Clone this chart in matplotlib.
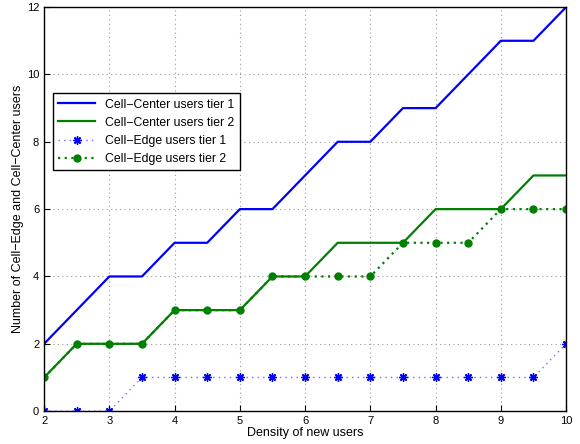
import matplotlib
matplotlib.use("Agg")
import matplotlib.pyplot as plt
import numpy as np

plt.rcParams["font.family"] = ["Liberation Sans", "DejaVu Sans"]

density = [2, 2.5, 3, 3.5, 4, 4.5, 5, 5.5, 6, 6.5, 7, 7.5, 8, 8.5, 9, 9.5, 10]
center_t1 = [2, 3, 4, 4, 5, 5, 6, 6, 7, 8, 8, 9, 9, 10, 11, 11, 12]
center_t2 = [1, 2, 2, 2, 3, 3, 3, 4, 4, 5, 5, 5, 6, 6, 6, 7, 7]
edge_t1 = [0, 0, 0, 1, 1, 1, 1, 1, 1, 1, 1, 1, 1, 1, 1, 1, 2]
edge_t2 = [1, 2, 2, 2, 3, 3, 3, 4, 4, 4, 4, 5, 5, 5, 6, 6, 6]

fig = plt.figure(figsize=(5.8, 4.44), dpi=100)
ax = fig.add_axes([0.076, 0.074, 0.9, 0.91])

ax.plot(density, center_t1, "-", color="#0000ff", lw=1.6, label="Cell\u2212Center users tier 1")
ax.plot(density, center_t2, "-", color="#008000", lw=1.6, label="Cell\u2212Center users tier 2")
ax.plot(density, edge_t1, color="#6f6fff", lw=1.0, ls=(0, (1, 3)), marker=(8, 2, 0), ms=6,
        markeredgewidth=1.0, markeredgecolor="#0000ff", label="Cell\u2212Edge users tier 1")
ax.plot(density, edge_t2, color="#008000", lw=1.6, ls=(0, (1, 2)), marker="o", ms=5,
        label="Cell\u2212Edge users tier 2")

ax.set_xlim(2, 10)
ax.set_ylim(0, 12)
ax.set_xticks(np.arange(2, 11, 1))
ax.set_yticks(np.arange(0, 13, 2))
ax.grid(True, ls=(0, (1, 3)), color="#999999", lw=0.8)
ax.tick_params(direction="in", labelsize=8, length=4)
for s in ax.spines.values():
    s.set_linewidth(1.0)

ax.set_xlabel("Density of new users", fontsize=9, labelpad=1)
ax.set_ylabel("Number of Cell\u2212Edge and Cell\u2212Center users", fontsize=9, labelpad=2)

leg = ax.legend(loc="upper left", bbox_to_anchor=(0.017, 0.787), fontsize=8.8,
                fancybox=False, edgecolor="black", framealpha=1,
                handlelength=3.0, borderpad=0.45, labelspacing=0.5,
                borderaxespad=0)
leg.get_frame().set_linewidth(1.0)

fig.savefig("out.png", dpi=100)
